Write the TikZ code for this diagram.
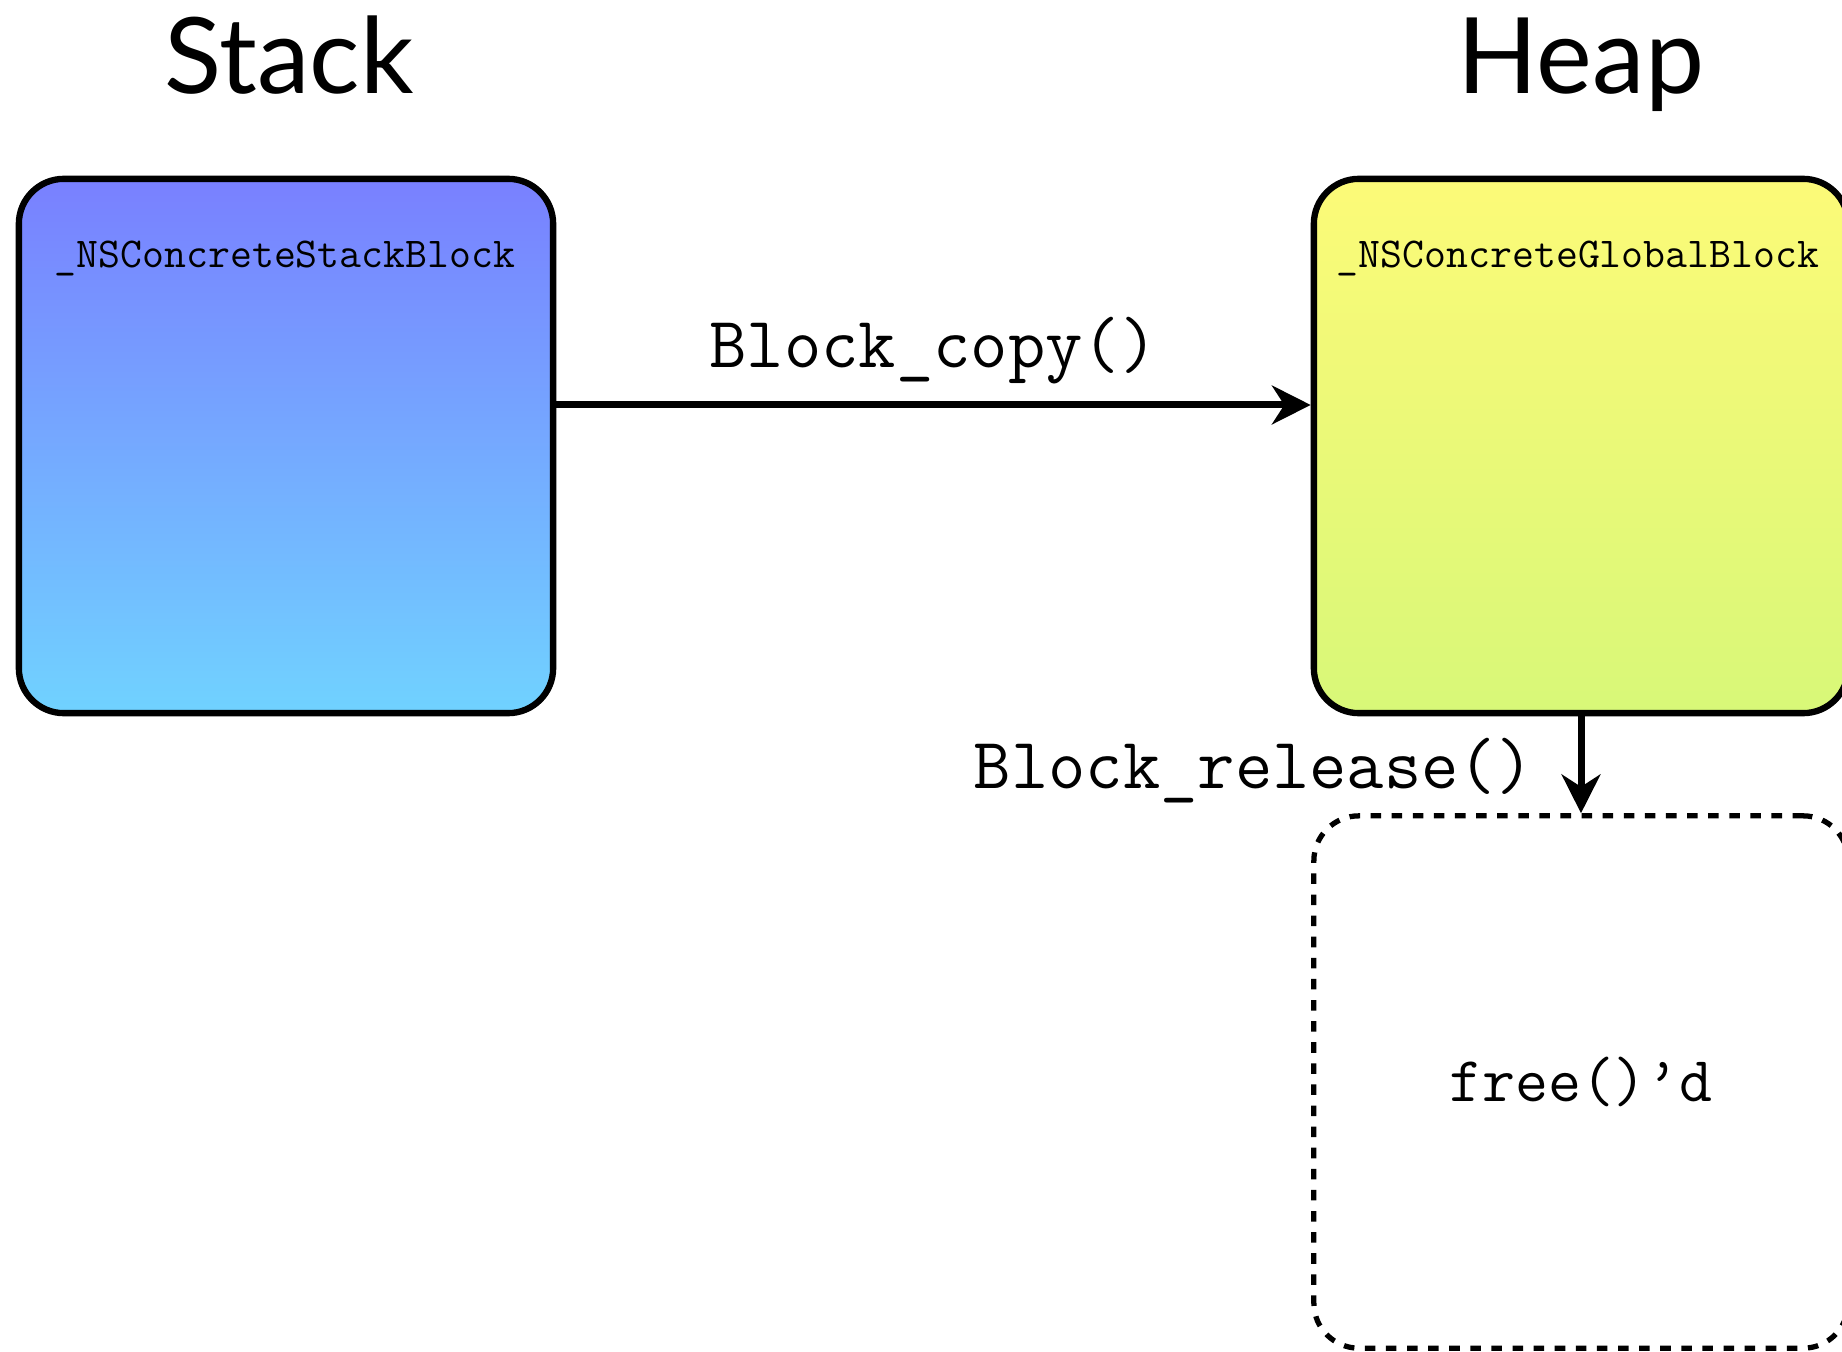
\documentclass[tikz,border=0pt]{standalone}
\usepackage{xcolor}
\usepackage{fontspec}
\setmainfont{Lato}
\usepackage{tikz}
\usetikzlibrary{arrows.meta,shadows}

\definecolor{stacktop}{RGB}{121,128,255}
\definecolor{stackbot}{RGB}{112,210,255}
\definecolor{heaptop}{RGB}{252,250,120}
\definecolor{heapbot}{RGB}{216,248,120}

\tikzset{
  blockbox/.style={draw=black,line width=1.8pt,rounded corners=0.45cm,
    minimum width=5.34cm,minimum height=5.34cm,
    drop shadow={shadow xshift=0.6pt,shadow yshift=-0.6pt,opacity=0.35}},
  freebox/.style={draw=black,line width=1.5pt,rounded corners=0.45cm,
    dash pattern=on 3pt off 3pt,minimum width=5.34cm,minimum height=5.32cm},
  title/.style={font=\fontsize{30}{34}\selectfont,anchor=base},
  kind/.style={font=\ttfamily\fontsize{12.1}{14}\selectfont,anchor=base},
  call/.style={font=\ttfamily\fontsize{20.6}{23}\selectfont,inner sep=0pt},
  flow/.style={line width=2pt,-{Stealth[length=11pt,width=11pt,inset=3.5pt]}}
}

\begin{document}
\begin{tikzpicture}[x=0.01cm,y=-0.01cm]
	\clip (0,0) rectangle (1842,1352);
	\fill[white] (0,0) rectangle (1842,1352);

	\node [title] (stacktitle) at (289,94) {Stack};
	\node [title] (heaptitle) at (1581,94) {Heap};

	\node [blockbox,top color=stacktop,bottom color=stackbot] (stack) at (286,446) {};
	\node [blockbox,top color=heaptop,bottom color=heapbot] (heap) at (1581,446) {};
	\node [freebox] (freed) at (1581,1082) {};

	\node [kind] (stackkind) at (285,268) {\_NSConcreteStackBlock};
	\node [kind] (heapkind) at (1578,268) {\_NSConcreteGlobalBlock};
	\node [call,font=\ttfamily\fontsize{18.2}{20}\selectfont] (freetext) at (freed) {free()’d};

	\draw [flow] ([yshift=0.41cm]stack.east) -- ([yshift=0.41cm]heap.west)
		node [call,anchor=base,pos=0.5,yshift=0.37cm] (copylabel) {Block\_copy()};
	\draw [flow] (heap.south) -- (freed.north)
		node [call,anchor=base east,pos=0.74,xshift=-0.44cm] (releaselabel) {Block\_release()};
\end{tikzpicture}
\end{document}
